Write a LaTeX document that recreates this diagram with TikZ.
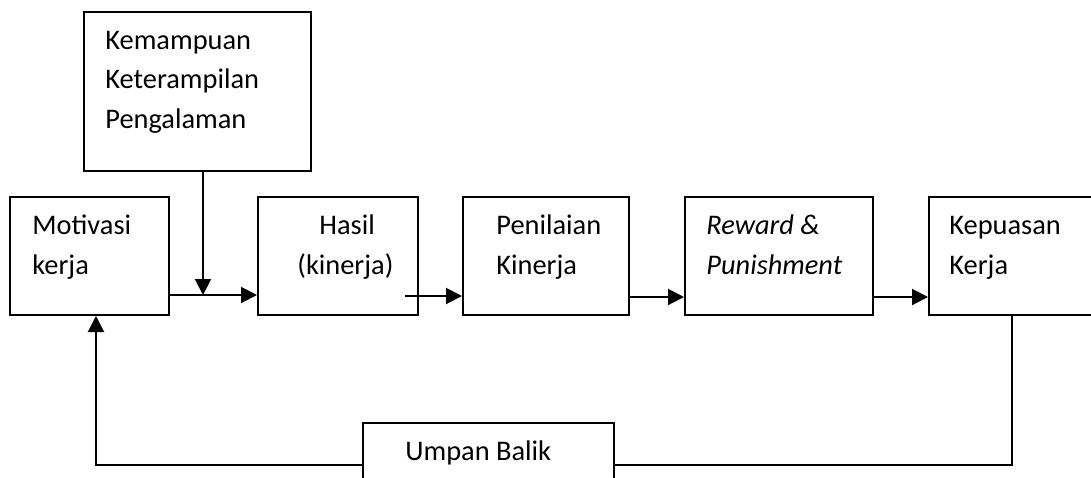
\documentclass[tikz,border=0pt]{standalone}
\usepackage{fontspec}
\setmainfont{Carlito}
\usetikzlibrary{arrows.meta}

\tikzset{
  blok/.style={draw, line width=1pt, rectangle, anchor=north west, inner sep=0pt},
  teks/.style={anchor=base west, align=left, inner sep=0pt, font=\fontsize{14.2}{19.6}\selectfont},
  panah/.style={line width=1pt, -{Triangle[length=8pt,width=8pt]}},
  garis/.style={line width=1pt}
}

\begin{document}
\begin{tikzpicture}[x=0.5pt, y=-0.5pt]
            %\draw[lightgray] (0, 0) grid (1091, 477);
            \useasboundingbox (0, 0) rectangle (1091, 477);
            \clip (0, 0) rectangle (1091, 477);
            % kotak
            \node[blok, minimum width=113.5pt, minimum height=79.5pt] (faktor) at (83, 11) {};
            \node[blok, minimum width=79.5pt, minimum height=59pt] (motivasi) at (9, 196) {};
            \node[blok, minimum width=80pt, minimum height=59pt] (hasil) at (257, 196) {};
            \node[blok, minimum width=83pt, minimum height=59pt] (penilaian) at (462, 196) {};
            \node[blok, minimum width=94pt, minimum height=59pt] (reward) at (684, 196) {};
            \node[blok, minimum width=86pt, minimum height=59pt] (kepuasan) at (928, 196) {};
            \node[blok, minimum width=125.5pt, minimum height=36.5pt] (umpan) at (362, 422) {};
            % teks (anchor pada baris terakhir)
            \node[teks] (faktor-t) at ([shift={(22, 117)}]faktor.north west) {Kemampuan\\Keterampilan\\Pengalaman};
            \node[teks] (motivasi-t) at ([shift={(23, 78)}]motivasi.north west) {Motivasi\\kerja};
            \node[teks] (hasil-t) at ([shift={(40, 78)}]hasil.north west) {\hspace*{11pt}Hasil\\(kinerja)};
            \node[teks] (penilaian-t) at ([shift={(34, 78)}]penilaian.north west) {Penilaian\\Kinerja};
            \node[teks] (reward-t) at ([shift={(22, 78)}]reward.north west) {\textit{Reward \&}\\\textit{Punishment}};
            \node[teks] (kepuasan-t) at ([shift={(21, 78)}]kepuasan.north west) {Kepuasan\\Kerja};
            \node[teks] (umpan-t) at ([shift={(43, 38)}]umpan.north west) {Umpan Balik};
            % panah
            \coordinate (temu) at (203, 295);
            \draw[panah] (motivasi.east |- temu) -- (hasil.west |- temu);
            \draw[panah] (faktor.south -| temu) -- (temu);
            \draw[panah] (405, 296) -- (penilaian.west |- 0, 296);
            \draw[panah] (penilaian.east |- 0, 297) -- (reward.west |- 0, 297);
            \draw[panah] (reward.east |- 0, 297) -- (kepuasan.west |- 0, 297);
            % umpan balik
            \draw[garis] (kepuasan.south -| 1012, 0) -- (1012, 465) -- (umpan.east |- 0, 465);
            \draw[panah] (umpan.west |- 0, 465) -- (96, 465) -- (motivasi.south -| 96, 0);
        \end{tikzpicture}
\end{document}
